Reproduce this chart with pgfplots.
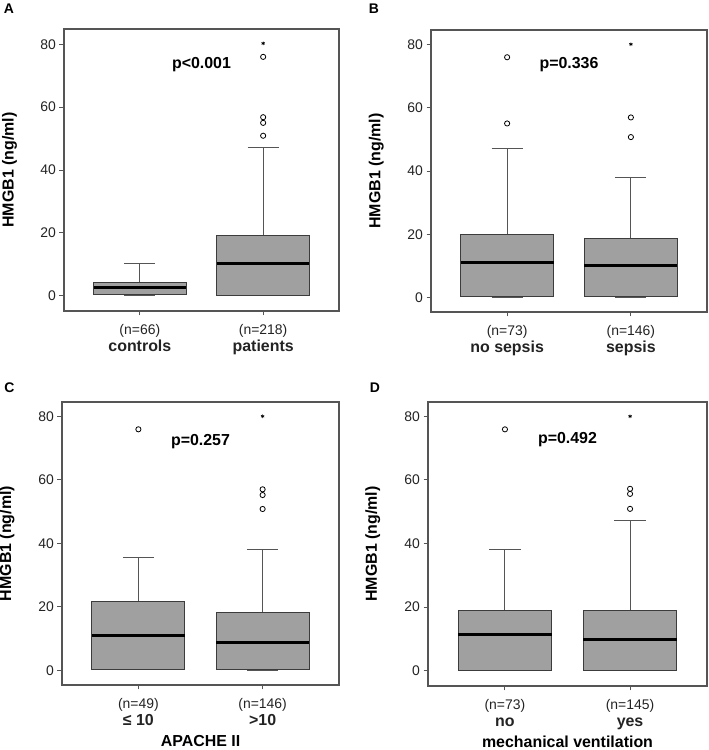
\documentclass[border=0pt]{standalone}
\usepackage{fontspec}
\setmainfont{Liberation Sans}
\setsansfont{Liberation Sans}
\usepackage{pgfplots}
\pgfplotsset{compat=1.18}
\usepgfplotslibrary{statistics}

\definecolor{boxfill}{RGB}{160,160,160}
\definecolor{boxline}{RGB}{60,60,60}
\definecolor{frame}{RGB}{85,85,85}
\definecolor{ticktxt}{RGB}{35,35,35}

\newcommand{\tickfont}{\fontsize{14}{16}\selectfont}
\newcommand{\boldfont}{\fontsize{16}{18}\selectfont\bfseries}

\tikzset{ptext/.style={font=\boldfont}}

\pgfplotsset{
  hmgb/.style={
    scale only axis,
    anchor=south west,
    xmin=0.385, xmax=2.615,
    xtick={1,2},
    ytick={0,20,40,60,80},
    tick pos=left,
    tick align=outside,
    major tick length=4.5bp,
    tick style={frame, line width=0.9bp},
    axis line style={frame, line width=1.1bp},
    tick label style={font=\tickfont, text=ticktxt},
    /pgf/number format/assume math mode=true,
    xticklabel style={align=center, yshift=-5bp},
    ylabel={HMGB1 (ng/ml)},
    ylabel style={font=\boldfont, inner sep=0pt, at={(axis description cs:-0.198,0.5)}, anchor=center},
    xlabel style={font=\boldfont, inner sep=0pt, at={(axis description cs:0.5,0)}, anchor=center, yshift=-56bp},
    boxplot/draw direction=y,
    boxplot/box extend=0.75,
    boxplot/whisker extend=0.25,
    boxplot/every box/.style={fill=boxfill, draw=boxline, line width=1bp},
    boxplot/every whisker/.style={draw=frame, line width=0.9bp},
    boxplot/every median/.style={draw=black, line width=3bp},
  },
  outl/.style={only marks, mark=o, mark size=2.6bp, draw=black, line width=0.8bp},
  extr/.style={only marks, mark=asterisk, mark size=1.8bp, draw=black, line width=0.7bp},
}

\begin{document}
\begin{tikzpicture}
\path[use as bounding box] (0,0) rectangle (709bp,750bp);

% A
\begin{axis}[hmgb, at={(64bp,439bp)}, width=275bp, height=282bp,
  ymin=-4.87, ymax=84.87,
  xticklabels={{(n=66)\\[1bp]{\boldfont controls}}, {(n=218)\\[1bp]{\boldfont patients}}}]
\addplot[boxplot prepared={lower whisker=0, lower quartile=0.3, median=2.7,
  upper quartile=4.3, upper whisker=10.2, draw position=1}] coordinates {};
\addplot[boxplot prepared={lower whisker=0, lower quartile=0.2, median=10.3,
  upper quartile=19.2, upper whisker=47.3, draw position=2}] coordinates {};
\addplot[outl] coordinates {(2,50.9) (2,55.0) (2,56.8) (2,76.0)};
\addplot[extr] coordinates {(2,80.3)};
\node[ptext] at (axis cs:1.5,73.5) {p<0.001};
\end{axis}

% B
\begin{axis}[hmgb, at={(431bp,438bp)}, width=276bp, height=282bp,
  ymin=-4.5, ymax=84.5,
  xticklabels={{(n=73)\\[1bp]{\boldfont no sepsis}}, {(n=146)\\[1bp]{\boldfont sepsis}}}]
\addplot[boxplot prepared={lower whisker=0.2, lower quartile=0.5, median=11.05,
  upper quartile=19.8, upper whisker=47.0, draw position=1}] coordinates {};
\addplot[boxplot prepared={lower whisker=0.1, lower quartile=0.3, median=10.1,
  upper quartile=18.7, upper whisker=38.0, draw position=2}] coordinates {};
\addplot[outl] coordinates {(1,55.0) (1,75.9) (2,50.7) (2,56.9)};
\addplot[extr] coordinates {(2,80)};
\node[ptext] at (axis cs:1.5,73.7) {p=0.336};
\end{axis}

% C
\begin{axis}[hmgb, at={(62bp,65bp)}, width=277bp, height=283bp,
  ymin=-4.63, ymax=84.5,
  xticklabels={{(n=49)\\[1bp]{\boldfont ≤ 10}}, {(n=146)\\[1bp]{\boldfont >10}}},
  xlabel={APACHE II}]
\addplot[boxplot prepared={lower whisker=0.2, lower quartile=0.4, median=10.9,
  upper quartile=21.7, upper whisker=35.4, draw position=1}] coordinates {};
\addplot[boxplot prepared={lower whisker=0.1, lower quartile=0.2, median=8.7,
  upper quartile=18.2, upper whisker=38.1, draw position=2}] coordinates {};
\addplot[outl] coordinates {(1,75.9) (2,50.8) (2,55.2) (2,57.0)};
\addplot[extr] coordinates {(2,80)};
\node[ptext] at (axis cs:1.5,72.0) {p=0.257};
\end{axis}

% D
\begin{axis}[hmgb, at={(428bp,64bp)}, width=279bp, height=284bp,
  ymin=-4.8, ymax=84.5,
  xticklabels={{(n=73)\\[1bp]{\boldfont no}}, {(n=145)\\[1bp]{\boldfont yes}}},
  xlabel={mechanical ventilation}]
\addplot[boxplot prepared={lower whisker=0, lower quartile=0.1, median=11.5,
  upper quartile=19.0, upper whisker=38.2, draw position=1}] coordinates {};
\addplot[boxplot prepared={lower whisker=0, lower quartile=0.1, median=9.9,
  upper quartile=19.0, upper whisker=47.2, draw position=2}] coordinates {};
\addplot[outl] coordinates {(1,75.9) (2,50.9) (2,55.6) (2,57.2)};
\addplot[extr] coordinates {(2,80)};
\node[ptext] at (axis cs:1.5,72.6) {p=0.492};
\end{axis}

% panel letters
\node[font=\fontsize{14}{16}\selectfont\bfseries] at (9bp,741bp) {A};
\node[font=\fontsize{14}{16}\selectfont\bfseries] at (374bp,741.5bp) {B};
\node[font=\fontsize{14}{16}\selectfont\bfseries] at (9.5bp,362.5bp) {C};
\node[font=\fontsize{14}{16}\selectfont\bfseries] at (375bp,362bp) {D};
\end{tikzpicture}
\end{document}
